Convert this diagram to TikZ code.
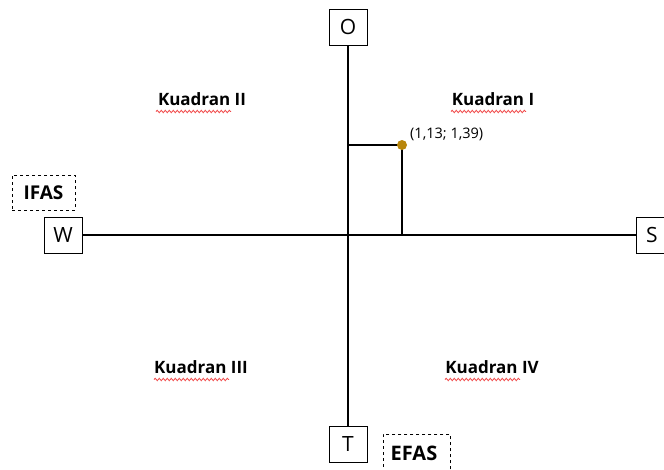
\documentclass[tikz,border=0pt]{standalone}
\usepackage{fontspec}
\setmainfont{Open Sans}
\usetikzlibrary{decorations.pathmorphing}
\definecolor{ptgold}{HTML}{B8860B}
\definecolor{spellred}{HTML}{F04848}
\begin{document}
\begin{tikzpicture}[x=1pt,y=-1pt,
  axis/.style={line width=1.2pt,black},
  letterbox/.style={draw,line width=0.9pt,minimum width=38pt,minimum height=36pt,inner sep=0pt,font=\fontsize{21}{21}\selectfont},
  dashbox/.style={draw,dashed,line width=0.9pt,inner sep=0pt},
  quad/.style={font=\bfseries\fontsize{17}{17}\selectfont,inner sep=0pt,anchor=base},
  wavy/.style={spellred,line width=0.8pt,decorate,decoration={snake,amplitude=1.2pt,segment length=4pt}}
]
\useasboundingbox (0,0) rectangle (664,469);
\node[letterbox] (O) at (348,27) {O};
\node[letterbox] (T) at (348,444) {T};
\node[letterbox] (W) at (63,235) {W};
\node[letterbox,anchor=west] (S) at (636,235) {\hspace*{0pt}};
\node at (652,235) [font=\fontsize{21}{21}\selectfont] (Slab) {S};
\node[dashbox,minimum width=63pt,minimum height=35pt] (IFAS) at (43.5,192.5) {};
\node[font=\bfseries\fontsize{19}{19}\selectfont] (IFASlab) at (43.5,192.5) {IFAS};
\node[dashbox,minimum width=67pt,minimum height=40pt,anchor=north west] (EFAS) at (383,434) {};
\node[font=\bfseries\fontsize{20}{20}\selectfont] (EFASlab) at (414,453) {EFAS};
\draw[axis] (O.south) -- (T.north);
\draw[axis] (W.east) -- (S.west);
\coordinate (Y) at (348,145);
\coordinate (X) at (402,235);
\coordinate (P0) at (402,145);
\draw[axis] (Y) -- (P0);
\draw[axis] (P0) -- (X);
\node[circle,fill=ptgold,minimum size=10pt,inner sep=0pt] (P) at (P0) {};
\node[anchor=west,font=\fontsize{14.5}{14.5}\selectfont,inner sep=0pt] (Plab) at (410,134) {(1,13; 1,39)};
\node[quad] (K2) at (202,105) {Kuadran II};
\node[quad] (K1) at (493,105) {Kuadran I};
\node[quad] (K3) at (201,373) {Kuadran III};
\node[quad] (K4) at (492,373) {Kuadran IV};
\draw[wavy] (156,111.5) -- (231,111.5);
\draw[wavy] (451,111.5) -- (526,111.5);
\draw[wavy] (154,379.5) -- (229,379.5);
\draw[wavy] (445,379.5) -- (520,379.5);
\end{tikzpicture}
\end{document}
